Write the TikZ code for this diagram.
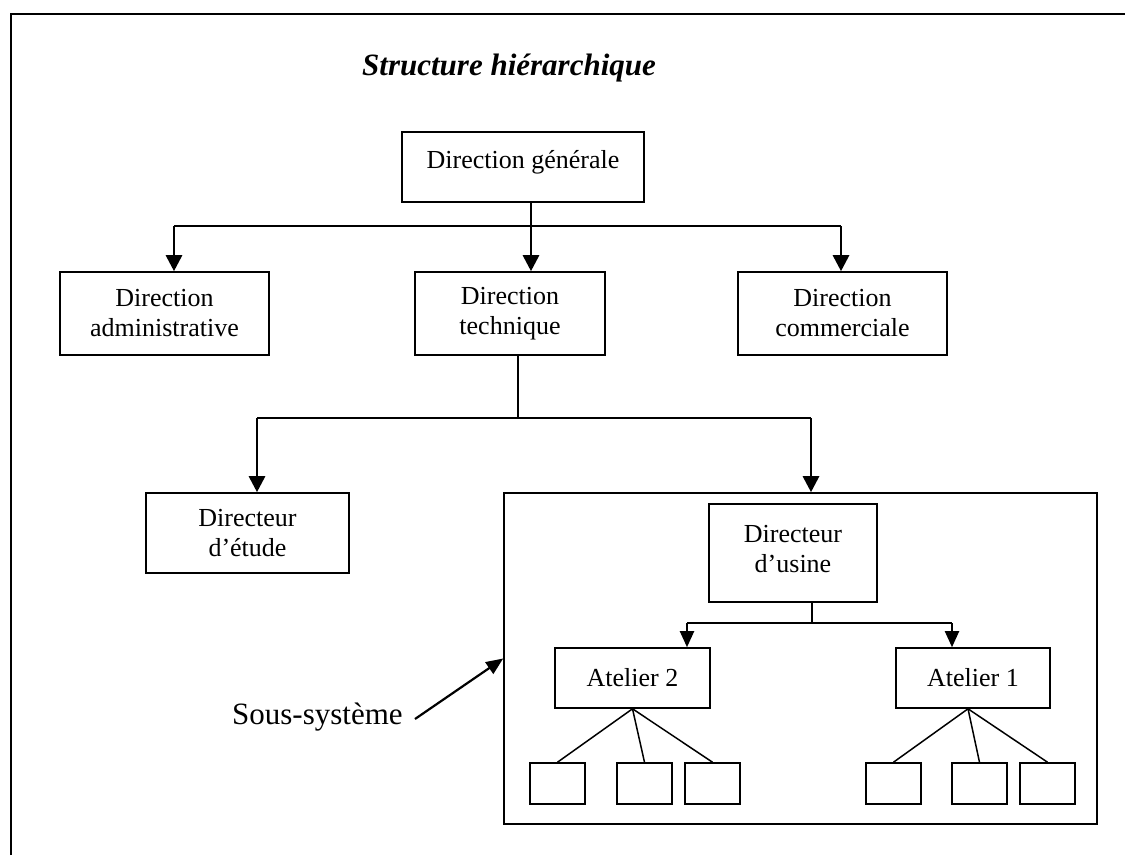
\documentclass[tikz,border=0pt]{standalone}
\usepackage{fontspec}
\setmainfont{Liberation Serif}
\usetikzlibrary{arrows.meta}

\tikzset{
  post/.style={draw, line width=1.6pt, inner sep=0pt, align=center},
  leaf/.style={draw, line width=1.6pt, inner sep=0pt,
    minimum width=55pt, minimum height=41pt},
  link/.style={line width=1.5pt},
  arr/.style={line width=2.8pt, -{Triangle[width=16pt,length=16pt]}},
  arrsmall/.style={line width=2pt, -{Triangle[width=14pt,length=16pt]}}
}

\begin{document}
\begin{tikzpicture}[x=1pt, y=-1pt,
    every node/.style={font=\fontsize{26}{30}\selectfont}]
  \useasboundingbox (0,0) rectangle (1125,855);
  % outer frame, cut at the page edge
  \draw[line width=2pt] (11,855) -- (11,14) -- (1125,14);

  \node[anchor=base west, inner sep=0pt,
    font=\fontsize{31}{36}\selectfont\bfseries\itshape] (title) at (362,75)
    {Structure hiérarchique};

  % first level
  \node[post, minimum width=242pt, text height=36pt, text depth=34pt] (dg) at (523,167) {Direction générale};
  \node[post, minimum width=209pt, minimum height=83pt] (adm) at (164.5,313.5) {Direction\\administrative};
  \node[post, minimum width=190pt, minimum height=83pt] (dt) at (510,313.5) {Direction\\technique};
  \node[post, minimum width=209pt, minimum height=83pt] (com) at (842.5,313.5) {Direction\\commerciale};

  \coordinate (j0) at (531,226);
  \coordinate (ja) at (174,226);
  \coordinate (jc) at (841,226);
  \draw[arr] (j0 |- dg.south) -- (j0 |- dt.north);
  \draw[link] (ja) -- (jc);
  \draw[arr] (ja) -- (ja |- adm.north);
  \draw[arr] (jc) -- (jc |- com.north);

  % second level
  \node[post, minimum width=203pt, minimum height=80pt] (etude) at (247.5,533) {Directeur\\d’étude};
  \node[post, minimum width=593pt, minimum height=331pt] (sub) at (800.5,658.5) {};

  \coordinate (jt) at (518,418);
  \coordinate (je) at (257,418);
  \coordinate (js) at (811,418);
  \draw[link] (jt |- dt.south) -- (jt);
  \draw[link] (je) -- (js);
  \draw[arr] (je) -- (je |- etude.north);
  \draw[arr] (js) -- (js |- sub.north);

  % inside the sub-system
  \node[post, minimum width=168pt, minimum height=98pt] (usine) at (793,553) {Directeur\\d’usine\\[-22pt]\mbox{}};
  \node[post, minimum width=155pt, minimum height=60pt] (at2) at (632.5,678) {Atelier 2};
  \node[post, minimum width=154pt, minimum height=60pt] (at1) at (973,678) {Atelier 1};

  \coordinate (ju) at (812,623);
  \coordinate (j2) at (687,623);
  \coordinate (j1) at (952,623);
  \draw[link] (ju |- usine.south) -- (ju);
  \draw[link] (j2) -- (j1);
  \draw[arrsmall] (j2) -- (j2 |- at2.north);
  \draw[arrsmall] (j1) -- (j1 |- at1.north);

  \foreach \x [count=\i] in {557.5,644.5,712.5} {
    \node[leaf] (a2\i) at (\x,783.5) {};
    \draw[link] (at2.south) -- (a2\i.north);
  }
  \foreach \x [count=\i] in {893.5,979.5,1047.5} {
    \node[leaf] (a1\i) at (\x,783.5) {};
    \draw[link] ([xshift=-5pt]at1.south) -- (a1\i.north);
  }

  % label of the sub-system
  \node[anchor=base west, inner sep=0pt, font=\fontsize{31}{36}\selectfont] (lbl) at (232,724) {Sous-système};
  \coordinate (tail) at (415,719);
  \draw[line width=2.2pt, -{Triangle[width=14pt,length=17pt]}] (tail) -- (sub.west);
\end{tikzpicture}
\end{document}
